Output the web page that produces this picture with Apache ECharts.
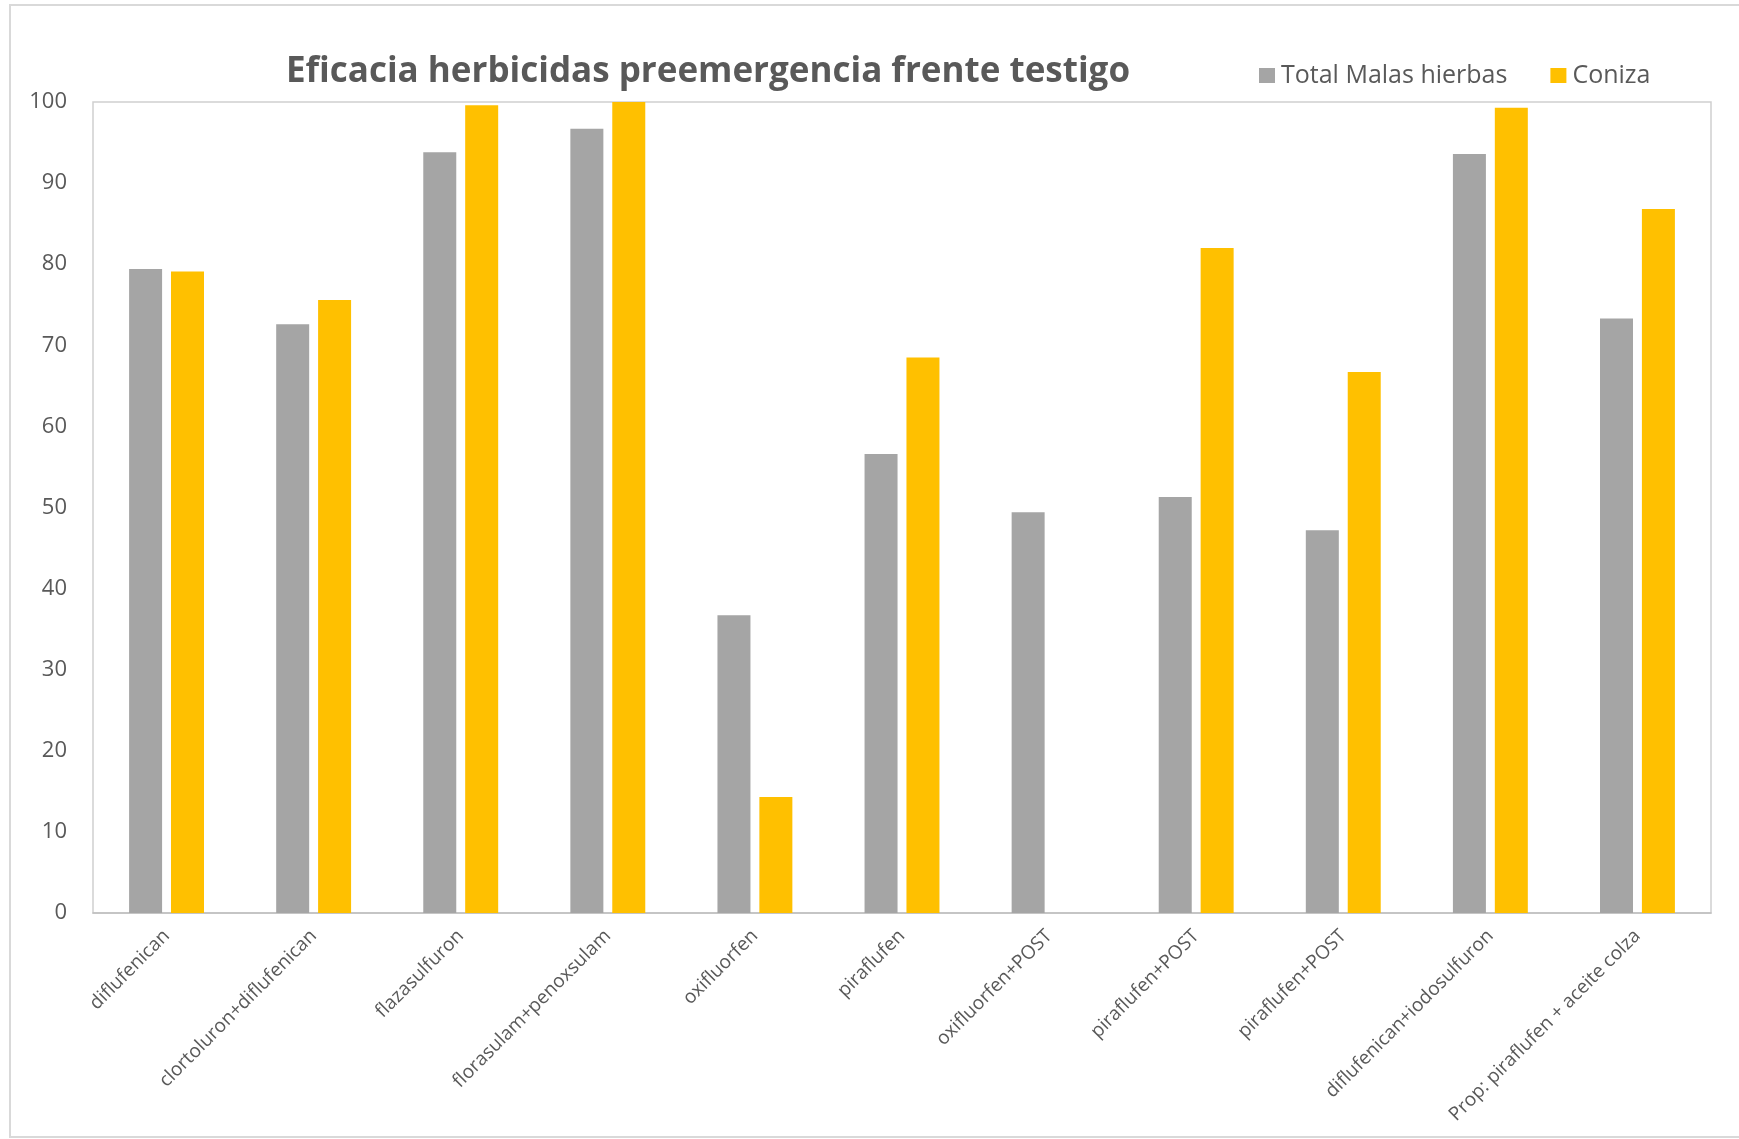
<!DOCTYPE html>
<html>
<head>
<meta charset="utf-8">
<script src="https://cdn.jsdelivr.net/npm/echarts@6/dist/echarts.min.js"></script>
<style>html,body{margin:0;padding:0;background:#fff}#c{width:1739px;height:1139px}</style>
</head>
<body>
<div id="c"></div>
<script>
const categories = ["diflufenican","clortoluron+diflufenican","flazasulfuron","florasulam+penoxsulam","oxifluorfen","piraflufen","oxifluorfen+POST","piraflufen+POST","piraflufen+POST","diflufenican+iodosulfuron","Prop: piraflufen + aceite colza"];
const totalMalasHierbas = [79.4, 72.6, 93.8, 96.7, 36.7, 56.6, 49.4, 51.3, 47.2, 93.6, 73.3];
const coniza = [79.1, 75.6, 99.6, 100, 14.3, 68.5, null, 82.0, 66.7, 99.3, 86.8];
const seriesNames = ["Total Malas hierbas", "Coniza"];
const titleText = "Eficacia herbicidas preemergencia frente testigo";

const chart = echarts.init(document.getElementById('c'));
chart.setOption({
  animation: false,
  backgroundColor: '#fff',
  title: {
    text: titleText,
    left: 703, top: 50, textAlign: 'center',
    textStyle: {fontFamily: 'Open Sans', fontWeight: 'bold', fontSize: 35, color: '#595959'}
  },
  legend: {
    left: 1254, top: 58,
    itemWidth: 16, itemHeight: 15, itemGap: 43,
    icon: 'rect',
    textStyle: {fontFamily: 'Open Sans', fontSize: 25, color: '#595959', padding: [0,0,0,1]},
    data: seriesNames
  },
  graphic: [{
    type: 'rect', shape: {x: 10, y: 5, width: 1760, height: 1132},
    style: {fill: 'none', stroke: '#d9d9d9', lineWidth: 2}, silent: true, z: -1
  }],
  grid: {left: 93, right: 28, top: 102, bottom: 226, show: true, borderColor: '#d0d0d0', borderWidth: 1.5},
  xAxis: {
    type: 'category', data: categories,
    axisLine: {lineStyle: {color: '#bfbfbf', width: 1.5}},
    axisTick: {show: false},
    axisLabel: {interval: 0, rotate: 45, margin: 20, fontFamily: 'Open Sans', fontSize: 19, color: '#595959'}
  },
  yAxis: {
    type: 'value', min: 0, max: 100, interval: 10,
    axisLine: {show: false}, axisTick: {show: false},
    splitLine: {show: false},
    axisLabel: {margin: 26, fontFamily: 'Open Sans', fontSize: 22, color: '#595959'}
  },
  series: [
    {name: seriesNames[0], type: 'bar', data: totalMalasHierbas, barWidth: 33, barGap: '27%', itemStyle: {color: '#a5a5a5'}},
    {name: seriesNames[1], type: 'bar', data: coniza, barWidth: 33, barGap: '27%', itemStyle: {color: '#ffc000'}}
  ]
});
</script>
</body>
</html>
